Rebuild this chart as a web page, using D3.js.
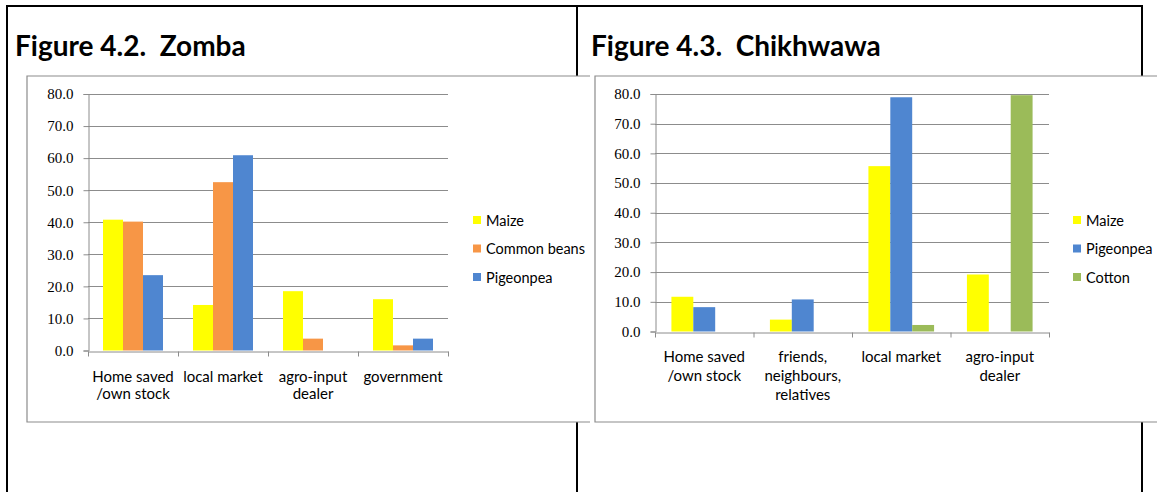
<!DOCTYPE html>
<html>
<head>
<meta charset="utf-8">
<script src="https://cdn.jsdelivr.net/npm/d3@7"></script>
<style>
  body { margin: 0; background: #fff; }
  svg { display: block; }
  .cat-lbl { font-family: Lato, "Open Sans", sans-serif; font-size: 15px; fill: #000; }
  .leg-lbl { font-family: Lato, "Open Sans", sans-serif; font-size: 14.5px; fill: #000; }
  .title { font-family: Lato, "Open Sans", sans-serif; font-size: 28px; font-weight: bold; fill: #000; white-space: pre; }
  .axis-y text { font-family: "Liberation Serif", "DejaVu Serif", serif; font-size: 15px; fill: #000; }
</style>
</head>
<body>
<svg id="page" width="1157" height="492"></svg>
<script>
// ---- data ----
const zombaCategories = ["Home saved\n/own stock", "local market", "agro-input\ndealer", "government"];
const zombaSeries = ["Maize", "Common beans", "Pigeonpea"];
const zombaMaize = [40.8, 14.2, 18.5, 16.0];
const zombaBeans = [40.2, 52.5, 3.7, 1.6];
const zombaPigeonpea = [23.5, 60.9, 0, 3.7];

const chikhCategories = ["Home saved\n/own stock", "friends,\nneighbours,\nrelatives", "local market", "agro-input\ndealer"];
const chikhSeries = ["Maize", "Pigeonpea", "Cotton"];
const chikhMaize = [11.7, 4.0, 55.7, 19.2];
const chikhPigeonpea = [8.2, 10.8, 78.9, 0];
const chikhCotton = [0, 0, 2.2, 79.6];

const yTicks = [0, 10, 20, 30, 40, 50, 60, 70, 80];

const colors = { "Maize": "#ffff00", "Common beans": "#f79646", "Pigeonpea": "#4f86d0", "Cotton": "#9bbb59" };

const svg = d3.select("#page");

// table frame behind the pasted charts
const frame = svg.append("g").attr("stroke", "#000").attr("stroke-width", 2);
frame.append("line").attr("x1", 7).attr("x2", 1142).attr("y1", 6).attr("y2", 6);
[7, 577, 1142].forEach(x =>
  frame.append("line").attr("x1", x).attr("x2", x).attr("y1", 5).attr("y2", 492));

svg.append("text").attr("class", "title").attr("x", 15).attr("y", 56).text("Figure 4.2.  Zomba");
svg.append("text").attr("class", "title").attr("x", 591).attr("y", 56).text("Figure 4.3.  Chikhwawa");

function drawChart(cfg) {
  const g = svg.append("g");

  // white chart image with its grey border
  const bx = cfg.box;
  g.append("rect").attr("x", bx[0]).attr("y", bx[1])
    .attr("width", bx[2] - bx[0]).attr("height", bx[3] - bx[1])
    .attr("fill", "#fff");
  g.append("path")
    .attr("d", `M${bx[2]},${bx[1]}H${bx[0]}V${bx[3]}H${bx[2]}`)
    .attr("fill", "none").attr("stroke", "#8c8c8c").attr("stroke-width", 1.2);

  const y = d3.scaleLinear().domain([0, 80]).range([cfg.bottom, cfg.top]);
  const x0 = d3.scaleBand().domain(cfg.categories).range([cfg.left, cfg.right]);
  const bw = x0.bandwidth();
  const x1 = d3.scaleBand().domain(cfg.series).range([bw / 6, bw * 5 / 6]);

  // gridlines
  g.append("g").selectAll("line").data(yTicks.filter(d => d > 0)).join("line")
    .attr("x1", cfg.left).attr("x2", cfg.right)
    .attr("y1", d => Math.round(y(d)) + 0.5).attr("y2", d => Math.round(y(d)) + 0.5)
    .attr("stroke", "#8c8c8c");

  // y axis
  const ya = g.append("g").attr("class", "axis-y").attr("transform", `translate(${cfg.left + 0.5},0)`)
    .call(d3.axisLeft(y).tickValues(yTicks).tickSize(5).tickPadding(10).tickFormat(d3.format(".1f")));
  ya.attr("font-family", null).attr("font-size", null);
  ya.select(".domain").attr("stroke", "#8c8c8c");
  ya.selectAll(".tick line").attr("stroke", "#8c8c8c");

  // bars
  const rows = cfg.categories.map((c, i) => ({ cat: c, vals: cfg.series.map((s, j) => ({ s, v: cfg.values[j][i] })) }));
  g.append("g").selectAll("g").data(rows).join("g")
    .attr("transform", d => `translate(${x0(d.cat)},0)`)
    .selectAll("rect").data(d => d.vals.filter(e => e.v > 0)).join("rect")
      .attr("x", d => x1(d.s)).attr("width", x1.bandwidth())
      .attr("y", d => y(d.v)).attr("height", d => y(0) - y(d.v))
      .attr("fill", d => colors[d.s]);

  // x axis with ticks on the category boundaries
  const xb = d3.scaleLinear().domain([0, cfg.categories.length]).range([cfg.left, cfg.right]);
  const xa = g.append("g").attr("transform", `translate(0,${Math.round(y(0)) + 0.5})`)
    .call(d3.axisBottom(xb).tickValues(d3.range(cfg.categories.length + 1)).tickSize(5).tickSizeOuter(0).tickFormat(""));
  xa.select(".domain").attr("stroke", "#8c8c8c");
  xa.selectAll(".tick line").attr("stroke", "#8c8c8c");

  // category labels
  g.append("g").selectAll("text").data(cfg.categories).join("text")
    .attr("class", "cat-lbl").attr("text-anchor", "middle")
    .attr("x", d => x0(d) + bw / 2).attr("y", y(0) + cfg.labelOffset)
    .selectAll("tspan").data(d => d.split("\n")).join("tspan")
      .attr("x", function () { return d3.select(this.parentNode).attr("x"); })
      .attr("dy", (d, i) => i === 0 ? 0 : cfg.lineHeight)
      .text(d => d);

  // legend
  const leg = g.append("g").selectAll("g").data(cfg.series).join("g")
    .attr("transform", (d, i) => `translate(${cfg.legendX},${220 + i * 28.5})`);
  leg.append("rect").attr("x", 0).attr("y", -4).attr("width", 8).attr("height", 8).attr("fill", d => colors[d]);
  leg.append("text").attr("class", "leg-lbl").attr("x", 13).attr("y", 5.5).text(d => d);
}

drawChart({
  box: [27, 76, 590, 422],
  left: 88, right: 448, top: 94, bottom: 350.5,
  categories: zombaCategories, series: zombaSeries,
  values: [zombaMaize, zombaBeans, zombaPigeonpea],
  labelOffset: 31, lineHeight: 17.5, legendX: 473
});

drawChart({
  box: [595, 76, 1160, 422],
  left: 655, right: 1049, top: 94, bottom: 331.5,
  categories: chikhCategories, series: chikhSeries,
  values: [chikhMaize, chikhPigeonpea, chikhCotton],
  labelOffset: 30, lineHeight: 19, legendX: 1073
});
</script>
</body>
</html>
